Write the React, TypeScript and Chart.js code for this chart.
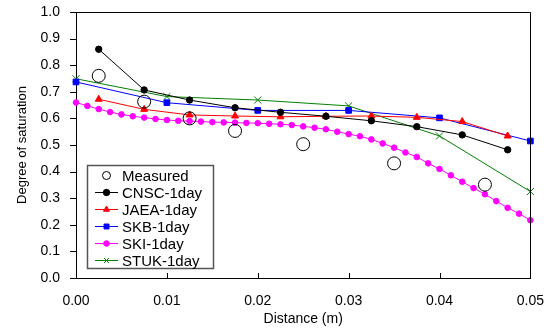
import React, { useEffect, useRef } from 'react';
import { Chart, registerables } from 'chart.js';

Chart.register(...registerables);

// ---- data ----
const measuredX = [0.0025, 0.0075, 0.0125, 0.0175, 0.025, 0.035, 0.045];
const measuredY = [0.76, 0.663, 0.6, 0.553, 0.503, 0.431, 0.351];

const modelX = [0.0025, 0.0075, 0.0125, 0.0175, 0.0225, 0.0275, 0.0325, 0.0375, 0.0425, 0.0475];
const cnscY = [0.86, 0.707, 0.669, 0.64, 0.623, 0.608, 0.591, 0.569, 0.538, 0.482];
const jaeaY = [0.672, 0.634, 0.613, 0.609, 0.606, 0.608, 0.609, 0.604, 0.588, 0.534];

const skbX = [0, 0.01, 0.02, 0.03, 0.04, 0.05];
const skbY = [0.737, 0.659, 0.63, 0.63, 0.602, 0.515];

const stukX = [0, 0.01, 0.02, 0.03, 0.04, 0.05];
const stukY = [0.749, 0.682, 0.669, 0.647, 0.534, 0.325];

const skiX = [
  0, 0.00125, 0.0025, 0.00375, 0.005, 0.00625, 0.0075, 0.00875, 0.01, 0.01125,
  0.0125, 0.01375, 0.015, 0.01625, 0.0175, 0.01875, 0.02, 0.02125, 0.0225, 0.02375,
  0.025, 0.02625, 0.0275, 0.02875, 0.03, 0.03125, 0.0325, 0.03375, 0.035, 0.03625,
  0.0375, 0.03875, 0.04, 0.04125, 0.0425, 0.04375, 0.045, 0.04625, 0.0475, 0.04875,
  0.05,
];
const skiY = [
  0.66, 0.647, 0.635, 0.624, 0.615, 0.608, 0.603, 0.598, 0.594, 0.591,
  0.59, 0.588, 0.586, 0.585, 0.584, 0.583, 0.582, 0.58, 0.578, 0.575,
  0.57, 0.565, 0.559, 0.55, 0.541, 0.533, 0.521, 0.506, 0.49, 0.472,
  0.455, 0.431, 0.41, 0.386, 0.362, 0.338, 0.315, 0.289, 0.264, 0.242,
  0.217,
];

const xTickValues = [0, 0.01, 0.02, 0.03, 0.04, 0.05];
const yTickValues = [0, 0.1, 0.2, 0.3, 0.4, 0.5, 0.6, 0.7, 0.8, 0.9, 1.0];

const xTitle = 'Distance (m)';
const yTitle = 'Degree of saturation';

const FONT = "'Liberation Sans', Arial, sans-serif";

const toPts = (xs: number[], ys: number[]) => xs.map((x, i) => ({ x, y: ys[i] }));

function drawMarker(ctx: CanvasRenderingContext2D, style: string, x: number, y: number, r: number, color: string, fill: boolean) {
  ctx.save();
  ctx.strokeStyle = color;
  ctx.fillStyle = color;
  ctx.lineWidth = 1;
  ctx.beginPath();
  if (style === 'circle') {
    ctx.arc(x, y, r, 0, Math.PI * 2);
    if (fill) ctx.fill();
    ctx.stroke();
  } else if (style === 'triangle') {
    ctx.moveTo(x, y - r);
    ctx.lineTo(x + r * 0.866, y + r * 0.5);
    ctx.lineTo(x - r * 0.866, y + r * 0.5);
    ctx.closePath();
    ctx.fill();
    ctx.stroke();
  } else if (style === 'rect') {
    const s = r * Math.SQRT1_2;
    ctx.rect(x - s, y - s, 2 * s, 2 * s);
    ctx.fill();
    ctx.stroke();
  } else if (style === 'crossRot') {
    const s = r * Math.SQRT1_2;
    ctx.moveTo(x - s, y - s);
    ctx.lineTo(x + s, y + s);
    ctx.moveTo(x - s, y + s);
    ctx.lineTo(x + s, y - s);
    ctx.stroke();
  }
  ctx.restore();
}

const decorPlugin = {
  id: 'decor',
  afterDraw(chart: any) {
    const ctx: CanvasRenderingContext2D = chart.ctx;
    const { left, right, top, bottom } = chart.chartArea;
    ctx.save();
    // frame top/right
    ctx.strokeStyle = '#000';
    ctx.lineWidth = 1;
    ctx.beginPath();
    ctx.moveTo(Math.round(left) + 0.5, Math.round(top) + 0.5);
    ctx.lineTo(Math.round(right) + 0.5, Math.round(top) + 0.5);
    ctx.lineTo(Math.round(right) + 0.5, Math.round(bottom) + 0.5);
    ctx.stroke();
    // inside x tick marks
    const xs = chart.scales.x;
    ctx.beginPath();
    xTickValues.forEach((v) => {
      const px = Math.round(xs.getPixelForValue(v)) + 0.5;
      ctx.moveTo(px, bottom);
      ctx.lineTo(px, bottom - 5);
    });
    // outside y tick marks
    const ys = chart.scales.y;
    yTickValues.forEach((v) => {
      const py = Math.round(ys.getPixelForValue(v)) + 0.5;
      ctx.moveTo(left - 6, py);
      ctx.lineTo(left, py);
    });
    ctx.stroke();

    // legend
    const bx = 87.5, by = 165.5, bw = 126, bh = 103;
    ctx.fillStyle = '#fff';
    ctx.fillRect(bx, by, bw, bh);
    ctx.strokeStyle = '#555';
    ctx.lineWidth = 1.5;
    ctx.strokeRect(bx, by, bw, bh);
    ctx.font = `15px ${FONT}`;
    ctx.textBaseline = 'middle';
    ctx.textAlign = 'left';
    chart.data.datasets.forEach((ds: any, i: number) => {
      const y = 175.5 + i * 17;
      const color = ds.borderColor;
      if (ds.showLine !== false) {
        ctx.strokeStyle = color;
        ctx.lineWidth = 1;
        ctx.beginPath();
        ctx.moveTo(95, y);
        ctx.lineTo(118, y);
        ctx.stroke();
      }
      const legR = ds.pointStyle === 'circle' && ds.showLine === false ? 4 : Math.min(ds.pointRadius, 3.5);
      drawMarker(ctx, ds.pointStyle, 106.5, y, legR, ds.pointBorderColor || color, ds.showLine !== false);
      ctx.fillStyle = '#000';
      ctx.fillText(ds.label, 122, y + 1);
    });
    ctx.restore();
  },
};

export default function App() {
  const ref = useRef<HTMLCanvasElement | null>(null);
  useEffect(() => {
    document.body.style.margin = '0';
    const canvas = ref.current!;
    const chart = new Chart(canvas, {
      type: 'scatter',
      data: {
        datasets: [
          {
            label: 'Measured',
            data: toPts(measuredX, measuredY),
            showLine: false,
            borderColor: '#000',
            pointBorderColor: '#000',
            backgroundColor: 'rgba(0,0,0,0)',
            pointBackgroundColor: 'rgba(0,0,0,0)',
            pointStyle: 'circle',
            pointRadius: 6.5,
            pointBorderWidth: 1,
            clip: false,
          },
          {
            label: 'CNSC-1day',
            data: toPts(modelX, cnscY),
            showLine: true,
            borderColor: '#000',
            backgroundColor: '#000',
            borderWidth: 1,
            pointStyle: 'circle',
            pointRadius: 3.2,
            clip: false,
          },
          {
            label: 'JAEA-1day',
            data: toPts(modelX, jaeaY),
            showLine: true,
            borderColor: '#ff0000',
            backgroundColor: '#ff0000',
            borderWidth: 1,
            pointStyle: 'triangle',
            pointRadius: 4,
            clip: false,
          },
          {
            label: 'SKB-1day',
            data: toPts(skbX, skbY),
            showLine: true,
            borderColor: '#0000ff',
            backgroundColor: '#0000ff',
            borderWidth: 1,
            pointStyle: 'rect',
            pointRadius: 4,
            clip: false,
          },
          {
            label: 'SKI-1day',
            data: toPts(skiX, skiY),
            showLine: true,
            borderColor: '#ff00ff',
            backgroundColor: '#ff00ff',
            borderWidth: 1,
            pointStyle: 'circle',
            pointRadius: 2.8,
            clip: false,
          },
          {
            label: 'STUK-1day',
            data: toPts(stukX, stukY),
            showLine: true,
            borderColor: '#008000',
            backgroundColor: '#008000',
            borderWidth: 1,
            pointStyle: 'crossRot',
            pointRadius: 5,
            pointBorderWidth: 1,
            clip: false,
          },
        ],
      } as any,
      options: {
        responsive: false,
        animation: false,
        devicePixelRatio: 1,
        layout: { padding: { left: 0, right: 13, top: 12, bottom: 0 } },
        plugins: { legend: { display: false }, tooltip: { enabled: false } },
        elements: { line: { tension: 0 } },
        scales: {
          x: {
            type: 'linear',
            min: 0,
            max: 0.05,
            afterFit: (s: any) => { s.height = 53; },
            afterBuildTicks: (s: any) => { s.ticks = xTickValues.map((v) => ({ value: v })); },
            ticks: {
              color: '#000',
              font: { family: FONT, size: 14 },
              padding: 0,
              maxRotation: 0,
              callback: (v: any) => Number(v).toFixed(2),
            },
            grid: { display: true, drawOnChartArea: false, drawTicks: true, tickLength: 15, color: 'rgba(0,0,0,0)' },
            border: { display: true, color: '#000', width: 1 },
            title: {
              display: true,
              text: xTitle,
              color: '#000',
              font: { family: FONT, size: 14 },
              padding: { top: 0, bottom: 3 },
            },
          },
          y: {
            type: 'linear',
            min: 0,
            max: 1,
            afterFit: (s: any) => { s.width = 76; },
            afterBuildTicks: (s: any) => { s.ticks = yTickValues.map((v) => ({ value: v })); },
            ticks: {
              color: '#000',
              font: { family: FONT, size: 14 },
              padding: 0,
              callback: (v: any) => Number(v).toFixed(1),
            },
            grid: { display: true, drawOnChartArea: false, drawTicks: true, tickLength: 16, color: 'rgba(0,0,0,0)' },
            border: { display: true, color: '#000', width: 1 },
            title: {
              display: true,
              text: yTitle,
              color: '#000',
              font: { family: FONT, size: 13 },
              padding: { top: 15, bottom: 0 },
            },
          },
        },
      } as any,
      plugins: [decorPlugin],
    });
    return () => chart.destroy();
  }, []);
  return (
    <div style={{ width: 544, height: 331 }}>
      <canvas ref={ref} width={544} height={331} style={{ display: 'block' }} />
    </div>
  );
}
